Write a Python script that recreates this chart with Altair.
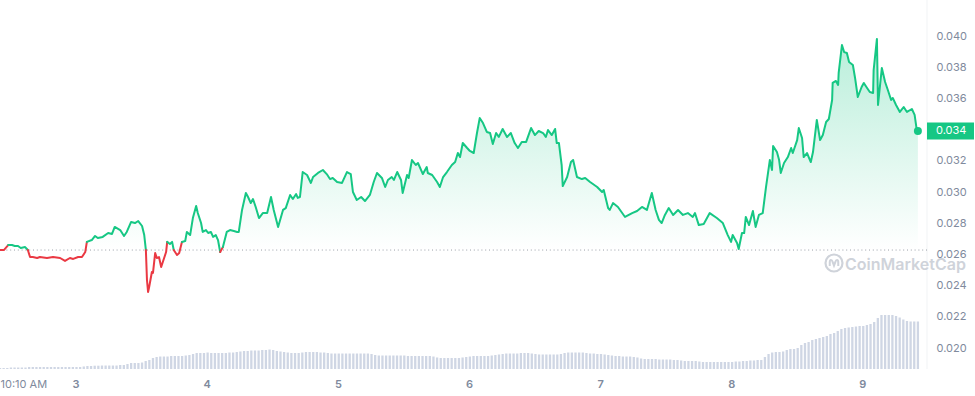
import altair as alt
import pandas as pd

# ---------------- data ----------------
START = pd.Timestamp("2024-01-02 10:10")

# hours since START for each price reading
HOURS = [
    0.0, 0.7, 1.5, 2.2, 2.7, 3.3, 3.8, 4.6, 5.1, 5.5,
    6.0, 6.8, 7.3, 8.6, 9.7, 11.0, 11.9, 12.8, 13.4, 14.3,
    15.0, 15.6, 15.9, 16.8, 17.4, 17.9, 18.8, 19.8, 20.5, 21.0,
    22.0, 22.7, 23.2, 24.0, 24.7, 25.3, 26.0, 26.4, 26.7, 26.9,
    27.1, 27.3, 27.8, 28.0, 28.4, 28.7, 29.1, 29.5, 29.8, 30.4,
    30.6, 31.1, 31.5, 31.8, 32.4, 32.8, 33.3, 33.9, 34.2, 34.8,
    35.3, 35.9, 36.2, 36.8, 37.1, 37.7, 38.1, 38.6, 39.0, 39.5,
    39.9, 40.3, 40.8, 41.5, 42.1, 42.8, 43.4, 43.7, 44.3, 45.0,
    45.4, 45.9, 46.3, 46.8, 47.4, 48.1, 48.9, 49.6, 50.1, 50.9,
    51.8, 52.3, 53.1, 53.6, 54.2, 54.5, 54.9, 55.4, 56.2, 56.9,
    57.3, 58.2, 59.1, 59.8, 60.4, 60.9, 61.7, 62.6, 63.5, 64.2,
    64.6, 65.3, 66.1, 66.8, 67.7, 68.4, 69.0, 69.9, 70.5, 71.0,
    71.7, 72.1, 72.7, 73.4, 73.7, 74.5, 74.8, 75.4, 76.1, 76.5,
    77.4, 78.1, 78.3, 79.1, 80.0, 80.5, 81.1, 81.8, 82.7, 83.3,
    83.8, 84.2, 84.7, 85.5, 86.0, 86.7, 87.3, 87.8, 88.4, 89.1,
    89.7, 90.2, 90.8, 91.3, 92.0, 92.8, 93.5, 94.2, 94.8, 95.5,
    96.3, 97.2, 97.9, 98.6, 99.4, 99.9, 100.3, 101.0, 101.6, 101.9,
    102.3, 102.8, 103.0, 103.8, 104.5, 104.9, 105.6, 106.5, 107.1, 108.0,
    109.3, 110.2, 110.5, 111.3, 111.6, 112.2, 113.1, 114.4, 115.7, 116.6,
    117.5, 118.4, 119.3, 120.0, 120.6, 121.1, 121.7, 122.4, 123.2, 124.1,
    125.0, 125.9, 126.8, 127.2, 127.9, 128.8, 129.9, 131.2, 132.3, 133.2,
    133.8, 134.1, 134.9, 135.2, 135.8, 136.2, 136.5, 137.1, 137.8, 138.3,
    138.9, 139.6, 140.2, 140.9, 141.3, 141.5, 142.2, 142.6, 142.9, 143.5,
    144.2, 144.8, 145.1, 145.9, 146.2, 146.8, 147.1, 147.7, 148.4, 148.8,
    149.5, 150.1, 150.6, 151.2, 151.7, 152.3, 152.4, 153.0, 153.4, 153.5,
    154.1, 154.5, 155.0, 155.4, 156.1, 156.5, 157.0, 157.7, 158.1, 158.7,
    159.2, 159.8, 159.9, 160.5, 160.7, 161.4, 162.0, 162.5, 163.1, 163.4,
    164.0, 164.7, 165.4, 166.0, 166.9, 167.4, 167.8, 168.0,
]

PRICES = [
    0.02628, 0.02628, 0.02660, 0.02660, 0.02654, 0.02654, 0.02641, 0.02647, 0.02628, 0.02583,
    0.02583, 0.02577, 0.02583, 0.02577, 0.02583, 0.02577, 0.02558, 0.02577, 0.02571, 0.02583,
    0.02583, 0.02615, 0.02680, 0.02692, 0.02718, 0.02705, 0.02712, 0.02737, 0.02731, 0.02776,
    0.02756, 0.02718, 0.02744, 0.02808, 0.02801, 0.02814, 0.02782, 0.02724, 0.02628, 0.02436,
    0.02359, 0.02391, 0.02487, 0.02481, 0.02609, 0.02577, 0.02583, 0.02519, 0.02551, 0.02615,
    0.02680, 0.02667, 0.02680, 0.02628, 0.02596, 0.02609, 0.02680, 0.02686, 0.02744, 0.02724,
    0.02833, 0.02910, 0.02865, 0.02801, 0.02744, 0.02756, 0.02737, 0.02744, 0.02712, 0.02724,
    0.02692, 0.02615, 0.02647, 0.02744, 0.02756, 0.02750, 0.02744, 0.02744, 0.02885, 0.02994,
    0.02968, 0.02929, 0.02955, 0.02904, 0.02833, 0.02865, 0.02865, 0.02968, 0.02885, 0.02776,
    0.02885, 0.02897, 0.02981, 0.02955, 0.02987, 0.02962, 0.02968, 0.03128, 0.03109, 0.03058,
    0.03096, 0.03122, 0.03141, 0.03115, 0.03083, 0.03090, 0.03064, 0.03058, 0.03128, 0.03115,
    0.03000, 0.02949, 0.02968, 0.02942, 0.02981, 0.03064, 0.03122, 0.03090, 0.03032, 0.03077,
    0.03096, 0.03077, 0.03128, 0.03077, 0.02994, 0.03109, 0.03090, 0.03205, 0.03173, 0.03186,
    0.03115, 0.03160, 0.03122, 0.03109, 0.03064, 0.03032, 0.03096, 0.03128, 0.03173, 0.03192,
    0.03250, 0.03224, 0.03314, 0.03282, 0.03263, 0.03250, 0.03378, 0.03474, 0.03442, 0.03385,
    0.03378, 0.03308, 0.03378, 0.03353, 0.03404, 0.03353, 0.03378, 0.03314, 0.03282, 0.03321,
    0.03321, 0.03410, 0.03365, 0.03391, 0.03378, 0.03353, 0.03397, 0.03365, 0.03404, 0.03314,
    0.03314, 0.03173, 0.03038, 0.03096, 0.03192, 0.03205, 0.03096, 0.03083, 0.03090, 0.03064,
    0.03032, 0.03000, 0.03013, 0.02897, 0.02885, 0.02929, 0.02904, 0.02840, 0.02865, 0.02878,
    0.02904, 0.02885, 0.02994, 0.02885, 0.02821, 0.02801, 0.02853, 0.02897, 0.02853, 0.02885,
    0.02853, 0.02865, 0.02840, 0.02865, 0.02788, 0.02795, 0.02865, 0.02833, 0.02801, 0.02724,
    0.02680, 0.02724, 0.02673, 0.02635, 0.02737, 0.02737, 0.02840, 0.02788, 0.02878, 0.02776,
    0.02853, 0.02865, 0.03032, 0.03205, 0.03141, 0.03295, 0.03256, 0.03205, 0.03122, 0.03186,
    0.03224, 0.03282, 0.03250, 0.03333, 0.03410, 0.03346, 0.03224, 0.03250, 0.03192, 0.03256,
    0.03462, 0.03333, 0.03365, 0.03449, 0.03468, 0.03590, 0.03699, 0.03712, 0.03686, 0.03763,
    0.03942, 0.03897, 0.03891, 0.03833, 0.03814, 0.03731, 0.03609, 0.03673, 0.03699, 0.03667,
    0.03641, 0.03635, 0.03782, 0.03981, 0.03558, 0.03795, 0.03705, 0.03654, 0.03590, 0.03603,
    0.03558, 0.03513, 0.03545, 0.03513, 0.03532, 0.03494, 0.03397, 0.03391,
]

# traded volume per 40-minute bar (USD millions)
BAR_MINUTES = 40
VOLUME_M = [
    0.17, 0.17, 0.17, 0.25, 0.25, 0.25, 0.25, 0.25, 0.33, 0.33,
    0.33, 0.33, 0.33, 0.33, 0.33, 0.33, 0.33, 0.33, 0.33, 0.33,
    0.33, 0.33, 0.33, 0.42, 0.50, 0.50, 0.55, 0.55, 0.58, 0.58,
    0.58, 0.58, 0.58, 0.67, 0.67, 0.83, 1.00, 1.00, 1.00, 1.08,
    1.33, 1.50, 1.83, 2.00, 2.08, 2.08, 2.08, 2.17, 2.17, 2.17,
    2.17, 2.25, 2.33, 2.50, 2.67, 2.67, 2.67, 2.75, 2.67, 2.67,
    2.67, 2.67, 2.67, 2.75, 2.75, 2.83, 2.92, 3.00, 3.00, 3.08,
    3.08, 3.08, 3.17, 3.17, 3.25, 3.17, 3.00, 2.92, 2.83, 2.75,
    2.67, 2.67, 2.67, 2.75, 2.83, 2.83, 2.83, 2.83, 2.75, 2.75,
    2.67, 2.58, 2.58, 2.58, 2.58, 2.58, 2.58, 2.58, 2.58, 2.58,
    2.58, 2.58, 2.50, 2.33, 2.25, 2.25, 2.25, 2.25, 2.25, 2.25,
    2.25, 2.25, 2.17, 2.17, 2.17, 2.17, 2.17, 2.17, 2.17, 2.08,
    1.92, 1.83, 1.83, 1.83, 1.83, 1.83, 1.83, 1.92, 2.00, 2.08,
    2.17, 2.17, 2.17, 2.17, 2.17, 2.25, 2.33, 2.42, 2.50, 2.58,
    2.58, 2.58, 2.58, 2.67, 2.67, 2.67, 2.58, 2.50, 2.42, 2.42,
    2.42, 2.42, 2.42, 2.42, 2.50, 2.67, 2.75, 2.75, 2.75, 2.75,
    2.75, 2.67, 2.58, 2.58, 2.50, 2.50, 2.42, 2.33, 2.25, 2.17,
    2.17, 2.08, 2.08, 2.08, 2.00, 1.92, 1.75, 1.67, 1.67, 1.67,
    1.67, 1.58, 1.58, 1.58, 1.58, 1.50, 1.50, 1.42, 1.33, 1.33,
    1.33, 1.33, 1.25, 1.17, 1.17, 1.17, 1.17, 1.17, 1.17, 1.17,
    1.17, 1.17, 1.25, 1.25, 1.33, 1.33, 1.42, 1.42, 1.50, 1.50,
    2.00, 2.50, 2.75, 2.83, 2.83, 2.92, 3.17, 3.33, 3.33, 3.50,
    4.00, 4.33, 4.50, 4.83, 5.00, 5.17, 5.33, 5.50, 5.83, 6.00,
    6.33, 6.67, 6.83, 6.92, 7.00, 7.08, 7.17, 7.17, 7.33, 7.50,
    7.83, 8.50, 9.00, 9.00, 9.00, 9.00, 8.83, 8.58, 8.25, 8.00,
    7.92, 7.92, 7.92,
]

PRICE_TICKS = [0.020, 0.022, 0.024, 0.026, 0.028, 0.030, 0.032, 0.034, 0.036, 0.038, 0.040]
DAY_TICKS = [3, 4, 5, 6, 7, 8, 9]
START_LABEL = "10:10 AM"
BRAND = "CoinMarketCap"

Y_DOMAIN = [0.018654, 0.042308]
VOL_DOMAIN = [0, 61.5]

# ---------------- styles ----------------
GREEN = "#16c784"
RED = "#ea3943"
BAR = "#cfd6e4"
GRID = "#eff2f5"
LABEL = "#808a9d"
WATERMARK = "#cfd3da"
FONT = "Inter"

# ---------------- tables ----------------
OPEN = PRICES[0]
LAST = PRICES[-1]


def iso(ts):
    return ts.strftime("%Y-%m-%dT%H:%M:%S")


times = [iso(START + pd.Timedelta(hours=h)) for h in HOURS]
price_df = pd.DataFrame({"t": times, "price": PRICES})

rows = []
seg = 0
prev = None
for t, p in zip(times, PRICES):
    side = "up" if p > OPEN else "down"
    if prev is not None and side != prev:
        rows.append({"t": t, "price": p, "seg": seg, "side": prev})
        seg += 1
    rows.append({"t": t, "price": p, "seg": seg, "side": side})
    prev = side
line_df = pd.DataFrame(rows)

vol_df = pd.DataFrame({
    "t": [iso(START + pd.Timedelta(minutes=BAR_MINUTES * k)) for k in range(len(VOLUME_M))],
    "vol": VOLUME_M,
})
last_df = price_df.tail(1)
open_df = pd.DataFrame({"open": [OPEN]})
brand_df = pd.DataFrame({"brand": [BRAND]})

# ---------------- scales & axes ----------------
x_start = alt.DateTime(year=2024, month=1, date=2, hours=10, minutes=10)
x_end = alt.DateTime(year=2024, month=1, date=9, hours=11, minutes=50)

is_start = "datum.value < time(datetime(2024, 0, 2, 12, 0))"
xaxis = alt.Axis(
    values=[x_start] + [alt.DateTime(year=2024, month=1, date=d) for d in DAY_TICKS],
    labelExpr=f"{is_start} ? '{START_LABEL}' : timeFormat(datum.value, '%-d')",
    labelAlign={"condition": {"test": is_start, "value": "left"}, "value": "center"},
    labelFontWeight={"condition": {"test": is_start, "value": 400}, "value": 600},
    domain=False, ticks=False, tickSize=0, grid=False,
    labelPadding=9, labelFontSize=11, labelColor=LABEL, labelFont=FONT,
    labelOverlap=False, labelBound=False, labelFlush=False, title=None,
)
xscale = alt.Scale(domain=[x_start, x_end], padding=0, nice=False)
X = alt.X("t:T", scale=xscale, axis=xaxis)

# the tick at the current price is hidden behind the price tag, so it gets no label
yaxis = alt.Axis(
    orient="right", values=PRICE_TICKS,
    labelExpr=f"abs(datum.value - {round(LAST, 3)}) < 0.0005 ? '' : format(datum.value, '.3f')",
    domain=False, ticks=False, tickSize=0, labelPadding=9,
    labelFontSize=11, labelColor=LABEL, labelFont=FONT,
    gridColor=GRID, gridWidth=1, labelOverlap=False, labelFlush=False, title=None,
)
yscale = alt.Scale(domain=Y_DOMAIN, nice=False, zero=False)


def Yp(field):
    return alt.Y(field, scale=yscale, axis=yaxis)


grad = alt.Gradient(
    gradient="linear",
    stops=[
        alt.GradientStop(color="rgba(22,199,132,0.0)", offset=0),
        alt.GradientStop(color="rgba(22,199,132,0.30)", offset=1),
    ],
    x1=1, x2=1, y1=1, y2=0,
)

# ---------------- layers ----------------
edge = alt.Chart(last_df).mark_rule(color="#f1f3f5", strokeWidth=1).encode(x=alt.datum(x_end))

area = alt.Chart(price_df).transform_calculate(
    top=f"max(datum.price, {OPEN})"
).mark_area(fill=grad, line=False, opacity=1).encode(
    x=X, y=Yp("top:Q"), y2=alt.datum(OPEN)
)

baseline = alt.Chart(open_df).mark_rule(
    strokeDash=[1, 2.8], color="#9aa0a8", strokeWidth=1
).encode(y=Yp("open:Q"))

line = alt.Chart(line_df).mark_line(
    strokeWidth=2, strokeJoin="round", strokeCap="round"
).encode(
    x=X, y=Yp("price:Q"),
    color=alt.Color("side:N", scale=alt.Scale(domain=["up", "down"], range=[GREEN, RED]), legend=None),
    detail="seg:N",
)

dot = alt.Chart(last_df).mark_point(filled=True, size=64, color=GREEN, opacity=1).encode(
    x=X, y=Yp("price:Q")
)

box = alt.Chart(last_df).mark_rect(
    color=GREEN, x2Offset=47, yOffset=-8.5, y2Offset=8.5
).encode(x=alt.datum(x_end), x2=alt.datum(x_end), y=Yp("price:Q"), y2="price:Q")

box_text = alt.Chart(last_df).mark_text(
    align="left", baseline="middle", dx=9, color="white", fontSize=11, font=FONT
).encode(x=alt.datum(x_end), y=Yp("price:Q"), text=alt.Text("price:Q", format=".3f"))

wm_text = alt.Chart(brand_df).mark_text(
    align="left", baseline="middle", fontSize=16, fontWeight=600, font=FONT, color=WATERMARK
).encode(x=alt.value(845), y=alt.value(265), text="brand:N")

wm_ring = alt.Chart(brand_df).mark_point(
    shape="circle", size=289, filled=False, strokeWidth=2.2, color=WATERMARK, opacity=1
).encode(x=alt.value(834), y=alt.value(263))

wm_wave = alt.Chart(brand_df).mark_point(
    shape="M-0.5,0.35 L-0.5,-0.05 C-0.5,-0.45 -0.25,-0.45 -0.15,-0.1 L0,0.3 L0.15,-0.1 C0.25,-0.45 0.5,-0.45 0.5,-0.05 L0.5,0.35",
    size=289, filled=False, strokeWidth=2, color=WATERMARK, opacity=1,
).encode(x=alt.value(834), y=alt.value(263))

bars = alt.Chart(vol_df).mark_bar(size=2.3, color=BAR).encode(
    x=X,
    y=alt.Y("vol:Q", scale=alt.Scale(domain=VOL_DOMAIN, nice=False, zero=True), axis=None),
)

price_layer = alt.layer(edge, area, baseline, line, dot, box, box_text, wm_ring, wm_wave, wm_text)

chart = alt.layer(bars, price_layer).resolve_scale(y="independent").properties(
    width=927,
    height=369,
    autosize=alt.AutoSizeParams(type="none"),
    padding={"left": 0, "top": 0, "right": 48, "bottom": 27},
    background="white",
).configure_view(stroke=None)

chart.save("out.html", embed_options={"renderer": "svg", "actions": False})
